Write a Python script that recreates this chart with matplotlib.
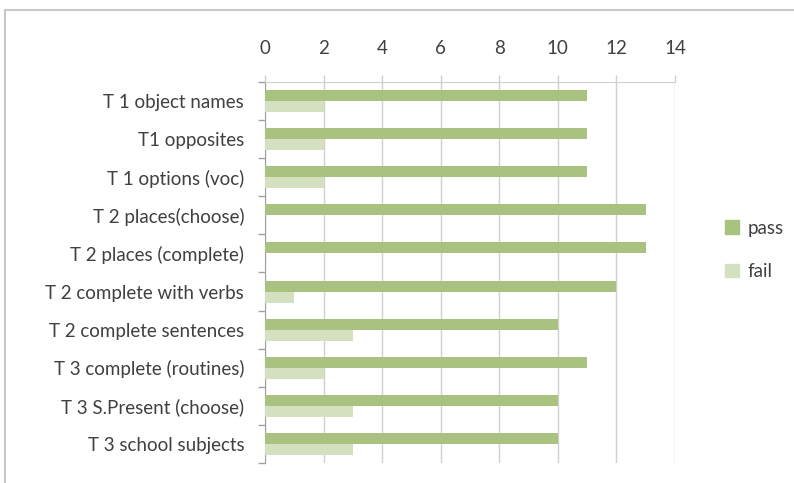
import matplotlib.pyplot as plt
import numpy as np
from matplotlib.lines import Line2D
from matplotlib.patches import Patch

plt.rcParams['font.family'] = ['Lato', 'DejaVu Sans']

categories = [
    "T 1 object names",
    "T1 opposites",
    "T 1 options (voc)",
    "T 2 places(choose)",
    "T 2 places (complete)",
    "T 2 complete with verbs",
    "T 2 complete sentences",
    "T 3 complete (routines)",
    "T 3 S.Present (choose)",
    "T 3 school subjects",
]
pass_vals = [11, 11, 11, 13, 13, 12, 10, 11, 10, 10]
fail_vals = [2, 2, 2, 0, 0, 1, 3, 2, 3, 3]

pass_color = '#A9C27F'
fail_color = '#D4E0C0'
text_color = '#404040'
grid_color = '#D0D0D0'

fig = plt.figure(figsize=(7.94, 4.83), dpi=100)
ax = fig.add_axes([265 / 794, 1 - 463 / 483, 410 / 794, 381 / 483])

y = np.arange(len(categories))
h = 0.29
ax.barh(y - h / 2, pass_vals, height=h, color=pass_color, label='pass', zorder=3)
ax.barh(y + h / 2, fail_vals, height=h, color=fail_color, label='fail', zorder=3)

ax.set_xlim(0, 14)
ax.set_ylim(len(categories) - 0.5, -0.5)
ax.set_xticks(range(0, 15, 2))
ax.xaxis.tick_top()
ax.tick_params(axis='x', direction='out', length=5, width=1, color=grid_color,
               pad=13, labelsize=13.5, labelcolor=text_color)
ax.grid(axis='x', color=grid_color, linewidth=1, zorder=0)

ax.set_yticks(y)
ax.set_yticklabels(categories)
ax.set_yticks(np.arange(-0.5, len(categories)), minor=True)
ax.tick_params(axis='y', which='major', length=0, pad=15, labelsize=13.5,
               labelcolor=text_color)
ax.tick_params(axis='y', which='minor', length=5, width=1, color='#A0A0A0')

for side in ['right', 'bottom']:
    ax.spines[side].set_visible(False)
ax.spines['top'].set_color(grid_color)
ax.spines['left'].set_color('#A0A0A0')

fig.legend(handles=[Patch(color=pass_color), Patch(color=fail_color)],
           labels=['pass', 'fail'], loc='center left',
           bbox_to_anchor=(708 / 794, 1 - 250 / 483), frameon=False,
           fontsize=13.5, labelcolor=text_color, handlelength=0.75,
           handleheight=0.75, handletextpad=0.45, labelspacing=1.4)

# outer chart frame (left and top edges visible)
fig.add_artist(Line2D([5 / 794, 5 / 794], [0, 1 - 10 / 483],
                      transform=fig.transFigure, color='#C8C8C8', linewidth=1.5))
fig.add_artist(Line2D([5 / 794, 1], [1 - 10 / 483, 1 - 10 / 483],
                      transform=fig.transFigure, color='#C8C8C8', linewidth=1.5))

fig.savefig('out.png', dpi=100)
